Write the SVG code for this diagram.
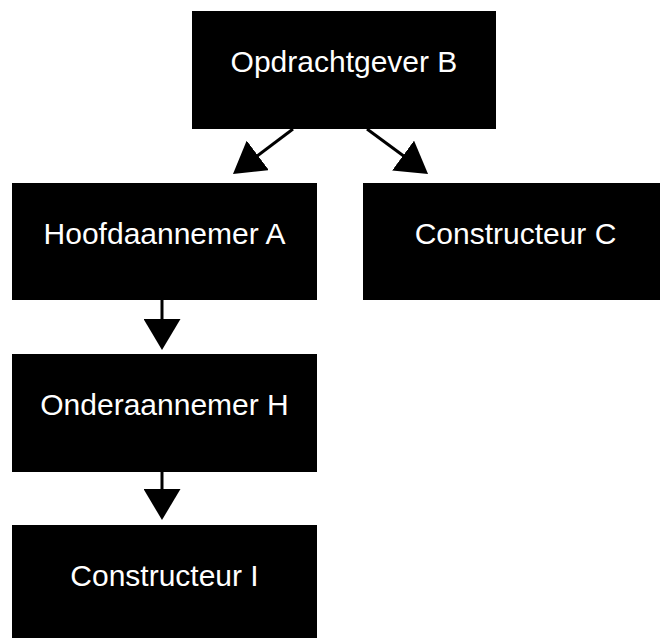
<svg xmlns="http://www.w3.org/2000/svg" width="660" height="638" viewBox="0 0 660 638">
  <style>
    .box { fill: #000000; }
    .label { fill: #ffffff; font-family: "Liberation Sans", Arial, sans-serif; font-size: 30px; text-anchor: middle; }
    .conn { stroke: #000000; stroke-width: 3; fill: none; marker-end: url(#arrow); }
  </style>
  <defs>
    <marker id="arrow" viewBox="0 0 31 37" refX="21" refY="18.5" markerWidth="31" markerHeight="37" markerUnits="userSpaceOnUse" orient="auto">
      <path d="M0,0 L31,18.5 L0,37 Z" fill="#000000"/>
    </marker>
  </defs>
  <rect width="660" height="638" fill="#ffffff"/>
  <g id="connectors">
    <line class="conn" x1="293" y1="129" x2="241" y2="168"/>
    <line class="conn" x1="367" y1="129" x2="420" y2="168"/>
    <line class="conn" x1="162" y1="300" x2="162" y2="340"/>
    <line class="conn" x1="162" y1="472" x2="162" y2="510"/>
  </g>
  <g id="node-opdrachtgever-b">
    <rect class="box" x="192" y="11" width="304" height="118"/>
    <text class="label" x="344" y="72">Opdrachtgever B</text>
  </g>
  <g id="node-hoofdaannemer-a">
    <rect class="box" x="12" y="183" width="305" height="117"/>
    <text class="label" x="164.5" y="244">Hoofdaannemer A</text>
  </g>
  <g id="node-constructeur-c">
    <rect class="box" x="363" y="183" width="305" height="117"/>
    <text class="label" x="515.5" y="244">Constructeur C</text>
  </g>
  <g id="node-onderaannemer-h">
    <rect class="box" x="12" y="354" width="305" height="118"/>
    <text class="label" x="164.5" y="415">Onderaannemer H</text>
  </g>
  <g id="node-constructeur-i">
    <rect class="box" x="12" y="525" width="305" height="118"/>
    <text class="label" x="164.5" y="586">Constructeur I</text>
  </g>
</svg>
